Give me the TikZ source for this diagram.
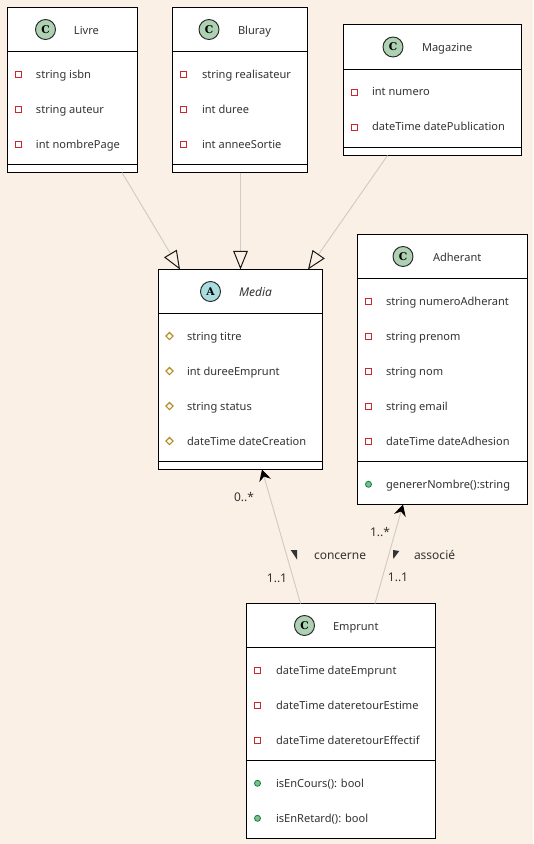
\documentclass[tikz,border=0pt]{standalone}
\usepackage{fontspec}
\setmainfont{Noto Sans}
\newfontfamily\glyphfont{DejaVu Serif}
\usetikzlibrary{arrows.meta,calc}
\definecolor{pagebg}{HTML}{FAF0E6}
\definecolor{ink}{HTML}{333333}
\definecolor{edge}{HTML}{CFCBC6}
\definecolor{privred}{HTML}{C82930}
\definecolor{protgold}{HTML}{B38D22}
\definecolor{pubfill}{HTML}{84BE84}
\definecolor{publine}{HTML}{038048}
\definecolor{classgreen}{HTML}{ADD1B2}
\definecolor{absblue}{HTML}{A9DCDF}
\tikzset{
  x=0.75pt,y=-0.75pt,
  classbox/.style={draw=black,fill=white,line width=0.75pt,inner sep=0pt,outer sep=0pt,anchor=north west},
  sepline/.style={draw=black,line width=0.75pt},
  member/.style={anchor=base west,inner sep=0pt,outer sep=0pt,text=ink,font=\fontsize{8.3}{10}\selectfont},
  title/.style={anchor=base west,inner sep=0pt,outer sep=0pt,text=ink,font=\fontsize{8.3}{10}\selectfont},
  edgelabel/.style={anchor=base,inner sep=0pt,outer sep=0pt,text=ink,font=\fontsize{9}{10}\selectfont},
  badge/.style={circle,draw=black!85,line width=0.7pt,minimum size=15pt,inner sep=0pt,text=black,font=\glyphfont\bfseries\fontsize{8}{8}\selectfont},
  priv/.style={draw=privred,fill=white,line width=0.75pt},
  prot/.style={draw=protgold,fill=white,line width=0.9pt},
  pub/.style={draw=publine,fill=pubfill,line width=0.6pt},
  inherit/.style={draw=edge,line width=0.7pt,-{Triangle[open,length=14pt,width=11pt,color=black!90,line width=0.75pt]}},
  assoc/.style={draw=edge,line width=0.7pt,-{Stealth[length=8.5pt,width=9pt,inset=3pt,color=black]}},
  dirmark/.style={fill=ink,draw=none},
}
\newcommand{\classnode}[5]{% name, x1, y1, x2, y2
  \path let \n1={#4-#2},\n2={#5-#3} in
    node[classbox,minimum width=0.75pt*\n1,minimum height=0.75pt*\n2] (#1) at (#2,#3) {};}
\newcommand{\privmark}[2]{\draw[priv] (#1-3,#2-3) rectangle (#1+3,#2+3);}
\newcommand{\protmark}[2]{\draw[prot] (#1-3.6,#2) -- (#1,#2-3.6) -- (#1+3.6,#2) -- (#1,#2+3.6) -- cycle;}
\newcommand{\pubmark}[2]{\draw[pub] (#1,#2) circle[radius=2.25pt];}
\begin{document}
\begin{tikzpicture}
\useasboundingbox[fill=pagebg] (0,0) rectangle (533,844);

% boxes
\classnode{livre}{7.5}{7.5}{137.5}{172.5}
\classnode{bluray}{172.5}{7.5}{307.5}{172.5}
\classnode{magazine}{343.5}{24.5}{521.5}{155.5}
\classnode{media}{158.5}{269.5}{322.5}{469.5}
\classnode{adherant}{357.5}{234.5}{527.5}{504.5}
\classnode{emprunt}{246.5}{603.5}{435.5}{838.5}

% separators
\draw[sepline] (7.5,51.5) -- (137.5,51.5) (7.5,164.5) -- (137.5,164.5);
\draw[sepline] (172.5,51.5) -- (307.5,51.5) (172.5,164.5) -- (307.5,164.5);
\draw[sepline] (343.5,69.5) -- (521.5,69.5) (343.5,147.5) -- (521.5,147.5);
\draw[sepline] (158.5,313.5) -- (322.5,313.5) (158.5,461.5) -- (322.5,461.5);
\draw[sepline] (357.5,278.5) -- (527.5,278.5) (357.5,461.5) -- (527.5,461.5);
\draw[sepline] (246.5,647.5) -- (435.5,647.5) (246.5,760.5) -- (435.5,760.5);

% headers
\node[badge,fill=classgreen] (bl) at (45.5,29.5) {C};
\node[title] (tl) at (74,34) {Livre};
\node[badge,fill=classgreen] (bb) at (209,29.5) {C};
\node[title] (tb) at (238,34) {Bluray};
\node[badge,fill=classgreen] (bm) at (393,47) {C};
\node[title] (tm) at (422,51) {Magazine};
\node[badge,fill=absblue] (ba) at (210.5,291.5) {A};
\node[title,font=\itshape\fontsize{9}{10}\selectfont] (ta) at (239,296) {Media};
\node[badge,fill=classgreen] (bh) at (403,256.5) {C};
\node[title] (th) at (433,261) {Adherant};
\node[badge,fill=classgreen] (be) at (304.5,625.5) {C};
\node[title] (te) at (333,630) {Emprunt};

% Livre
\privmark{18.5}{74.5} \node[member] (l1) at (36,78) {string isbn};
\privmark{18.5}{109.5} \node[member] (l2) at (36,113) {string auteur};
\privmark{18.5}{144.5} \node[member] (l3) at (36,148) {int nombrePage};
% Bluray
\privmark{183.5}{74.5} \node[member] (b1) at (202,78) {string realisateur};
\privmark{183.5}{109.5} \node[member] (b2) at (202,113) {int duree};
\privmark{183.5}{144.5} \node[member] (b3) at (202,148) {int anneeSortie};
% Magazine
\privmark{354.5}{92.5} \node[member] (m1) at (372,95) {int numero};
\privmark{354.5}{127.5} \node[member] (m2) at (372,130) {dateTime datePublication};
% Media
\protmark{169.5}{336} \node[member] (a1) at (187,340) {string titre};
\protmark{169.5}{371} \node[member] (a2) at (187,375) {int dureeEmprunt};
\protmark{169.5}{406} \node[member] (a3) at (187,410) {string status};
\protmark{169.5}{441} \node[member] (a4) at (187,445) {dateTime dateCreation};
% Adherant
\privmark{368.5}{301.5} \node[member] (h1) at (386,305) {string numeroAdherant};
\privmark{368.5}{336.5} \node[member] (h2) at (386,340) {string prenom};
\privmark{368.5}{371.5} \node[member] (h3) at (386,375) {string nom};
\privmark{368.5}{406.5} \node[member] (h4) at (386,410) {string email};
\privmark{368.5}{441.5} \node[member] (h5) at (386,445) {dateTime dateAdhesion};
\pubmark{368.5}{484.3} \node[member] (h6) at (386,488) {genererNombre():string};
% Emprunt
\privmark{257.5}{670.5} \node[member] (e1) at (276,674) {dateTime dateEmprunt};
\privmark{257.5}{705.5} \node[member] (e2) at (276,709) {dateTime dateretourEstime};
\privmark{257.5}{740.5} \node[member] (e3) at (276,744) {dateTime dateretourEffectif};
\pubmark{257.5}{783.3} \node[member] (e4) at (276,787) {isEnCours(): bool};
\pubmark{257.5}{818.3} \node[member] (e5) at (276,822) {isEnRetard(): bool};

% connectors
\coordinate (lfoot) at (122,172.5);
\coordinate (mhead1) at (180,269.5);
\coordinate (bfoot) at (240.5,172.5);
\coordinate (mhead2) at (240.5,269.5);
\coordinate (gfoot) at (387.5,155.5);
\coordinate (mhead3) at (308,269.5);
\draw[inherit] (lfoot) -- (mhead1);
\draw[inherit] (bfoot) -- (mhead2);
\draw[inherit] (gfoot) -- (mhead3);

\coordinate (ehead1) at (300.5,603.5);
\coordinate (mfoot) at (262,469.5);
\coordinate (ehead2) at (375,603.5);
\coordinate (hfoot) at (403,504.5);
\draw[assoc] (ehead1) -- (mfoot);
\draw[assoc] (ehead2) -- (hfoot);

% association labels
\node[edgelabel] (q1) at (244,501) {0..*};
\node[edgelabel] (q2) at (277,582) {1..1};
\node[edgelabel] (q3) at (380,536) {1..*};
\node[edgelabel] (q4) at (398,581) {1..1};
\node[edgelabel,anchor=base west] (q5) at (314,559) {concerne};
\node[edgelabel,anchor=base west] (q6) at (414,559) {associé};
\fill[dirmark] (290.7,550) -- (297,550) -- (297,559.5) -- cycle;
\fill[dirmark] (393,550) -- (399.3,551) -- (393.3,559) -- cycle;
\end{tikzpicture}
\end{document}
